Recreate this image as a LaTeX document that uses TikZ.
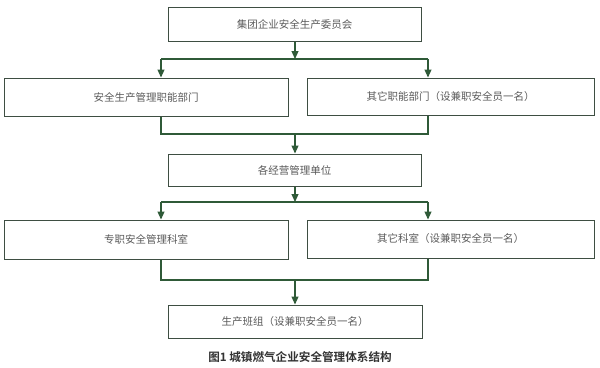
\documentclass[tikz,border=0pt]{standalone}
\usepackage{fontspec}
\setmainfont{Noto Sans CJK SC}
\newfontfamily\cjkbold{Noto Sans CJK SC Bold}
\usetikzlibrary{arrows.meta}
\definecolor{boxline}{HTML}{3E4E42}
\definecolor{conn}{HTML}{2F5A38}
\definecolor{txt}{HTML}{5A5A5A}
\begin{document}
\begin{tikzpicture}[x=1pt,y=-1pt,
  box/.style={draw=boxline,line width=1pt,inner sep=0pt,font=\fontsize{10.5}{12}\selectfont,text=txt},
  conn/.style={draw=conn,line width=1.1pt},
  arr/.style={conn,-{Triangle[width=7pt,length=8pt]}}]
\useasboundingbox (0,0) rectangle (600,367);
\node[box,minimum width=253pt,minimum height=34pt] (b1) at (294.5,24) {集团企业安全生产委员会};
\node[box,minimum width=284pt,minimum height=38pt] (b2l) at (146,97) {安全生产管理职能部门};
\node[box,minimum width=287pt,minimum height=37pt] (b2r) at (450.5,96.5) {其它职能部门（设兼职安全员一名）};
\node[box,minimum width=253pt,minimum height=32pt] (b3) at (294.5,170) {各经营管理单位};
\node[box,minimum width=284pt,minimum height=39pt] (b4l) at (146,239.5) {专职安全管理科室};
\node[box,minimum width=287pt,minimum height=38pt] (b4r) at (450.5,239) {其它科室（设兼职安全员一名）};
\node[box,minimum width=254pt,minimum height=33pt] (b5) at (295,321.5) {生产班组（设兼职安全员一名）};
\node[font=\cjkbold\fontsize{11.6}{13}\selectfont,text=black!80] (cap) at (300,357) {图1 城镇燃气企业安全管理体系结构};
% level 1 -> 2
\coordinate (j1) at (295,59);
\coordinate (l1) at (161,59);
\coordinate (r1) at (428,59);
\draw[arr] (b1.south -| j1) -- (j1);
\draw[conn] (l1) -- (r1);
\draw[arr] (l1) -- (l1 |- b2l.north);
\draw[arr] (r1) -- (r1 |- b2r.north);
% level 2 -> 3
\coordinate (l2) at (161,134);
\coordinate (r2) at (428,134);
\coordinate (m2) at (295,134);
\draw[conn] (l2 |- b2l.south) -- (l2) -- (r2) -- (r2 |- b2r.south);
\draw[arr] (m2) -- (m2 |- b3.north);
% level 3 -> 4
\coordinate (j3) at (295,202);
\coordinate (l3) at (161,202);
\coordinate (r3) at (428,202);
\draw[arr] (b3.south -| j3) -- (j3);
\draw[conn] (l3) -- (r3);
\draw[arr] (l3) -- (l3 |- b4l.north);
\draw[arr] (r3) -- (r3 |- b4r.north);
% level 4 -> 5
\coordinate (l4) at (161,280);
\coordinate (r4) at (428,280);
\coordinate (m4) at (295,280);
\draw[conn] (l4 |- b4l.south) -- (l4) -- (r4) -- (r4 |- b4r.south);
\draw[arr] (m4) -- (m4 |- b5.north);
\end{tikzpicture}
\end{document}
